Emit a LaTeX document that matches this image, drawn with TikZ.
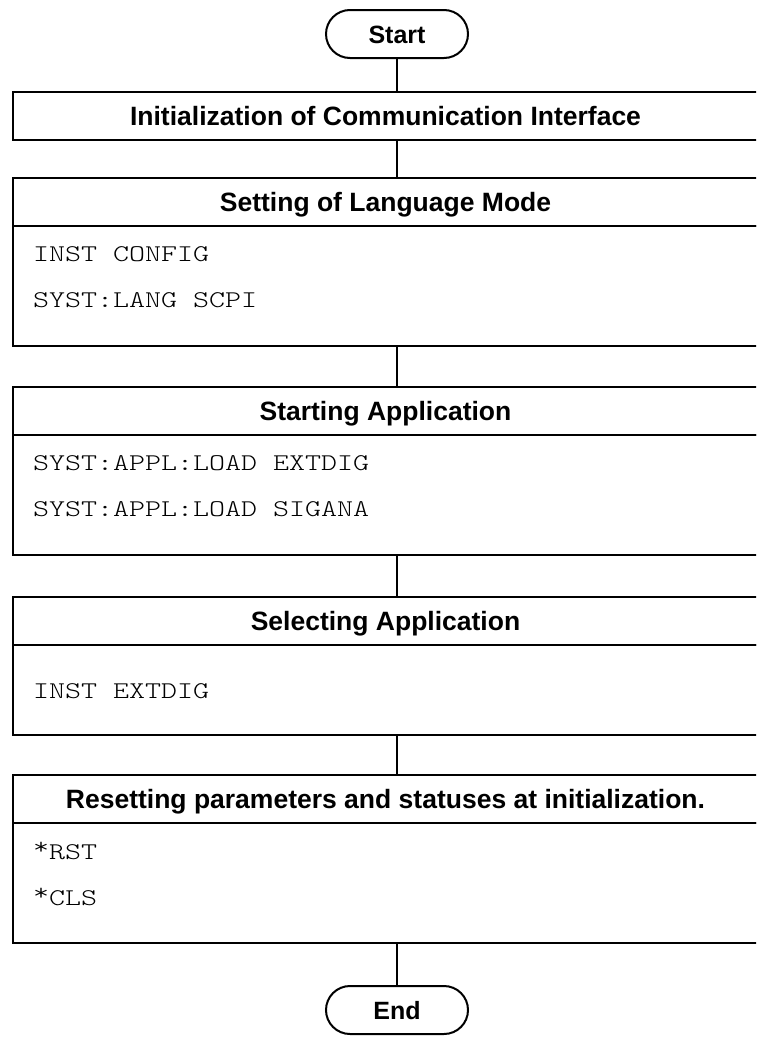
\documentclass[tikz,border=0pt]{standalone}
\usepackage{fontspec}
\setmainfont{Liberation Sans}
\newfontfamily\codefont{lmmonolt10-regular.otf}[FakeStretch=1.27]
\usetikzlibrary{shapes.misc}

\tikzset{
  headbox/.style={draw, line width=2pt, minimum width=746pt, minimum height=48pt, inner sep=0pt, outer sep=0pt, text height=19pt, text depth=0pt, font=\fontsize{26.5}{30}\selectfont\bfseries},
  bodybox/.style={draw, line width=2pt, minimum width=746pt, inner sep=0pt, outer sep=0pt, anchor=north},
  codeline/.style={anchor=west, inner sep=0pt, font=\fontsize{24}{28}\selectfont\codefont},
  terminal/.style={draw, rounded rectangle, line width=2pt, minimum width=142pt, minimum height=48pt, inner sep=0pt, outer sep=0pt, text height=18pt, text depth=0pt, font=\fontsize{25}{29}\selectfont\bfseries},
  flow/.style={line width=2pt}
}
\newcommand{\cmdstar}{\raisebox{5pt}{*}}

\begin{document}
\begin{tikzpicture}[x=1pt, y=-1pt]
    \useasboundingbox (0, 0) rectangle (756, 1039);
    \clip (0, 0) rectangle (756, 1039);

    \node [terminal] (start) at (397, 34) {Start};
    \node [headbox] (init) at (385.5, 116) {Initialization of Communication Interface};

    \node [headbox] (langhead) at (385.5, 202) {Setting of Language Mode};
    \node [bodybox, minimum height=120pt] (langbody) at (langhead.south) {};
    \node [codeline] (lang1) at (33, 254) {INST CONFIG};
    \node [codeline] (lang2) at (33, 300) {SYST:LANG SCPI};

    \node [headbox] (loadhead) at (385.5, 411) {Starting Application};
    \node [bodybox, minimum height=120pt] (loadbody) at (loadhead.south) {};
    \node [codeline] (load1) at (33, 463) {SYST:APPL:LOAD EXTDIG};
    \node [codeline] (load2) at (33, 509) {SYST:APPL:LOAD SIGANA};

    \node [headbox] (selhead) at (385.5, 621) {Selecting Application};
    \node [bodybox, minimum height=90pt] (selbody) at (selhead.south) {};
    \node [codeline] (sel1) at (33, 691) {INST EXTDIG};

    \node [headbox] (rsthead) at (385.5, 799) {Resetting parameters and statuses at initialization.};
    \node [bodybox, minimum height=120pt] (rstbody) at (rsthead.south) {};
    \node [codeline] (rst1) at (33, 851) {\cmdstar RST};
    \node [codeline] (rst2) at (33, 897) {\cmdstar CLS};

    \node [terminal] (end) at (397, 1010) {End};

    \draw [flow] (start.south) -- (start.south |- init.north);
    \draw [flow] (start.south |- init.south) -- (start.south |- langhead.north);
    \draw [flow] (start.south |- langbody.south) -- (start.south |- loadhead.north);
    \draw [flow] (start.south |- loadbody.south) -- (start.south |- selhead.north);
    \draw [flow] (start.south |- selbody.south) -- (start.south |- rsthead.north);
    \draw [flow] (start.south |- rstbody.south) -- (end.north);
\end{tikzpicture}
\end{document}
